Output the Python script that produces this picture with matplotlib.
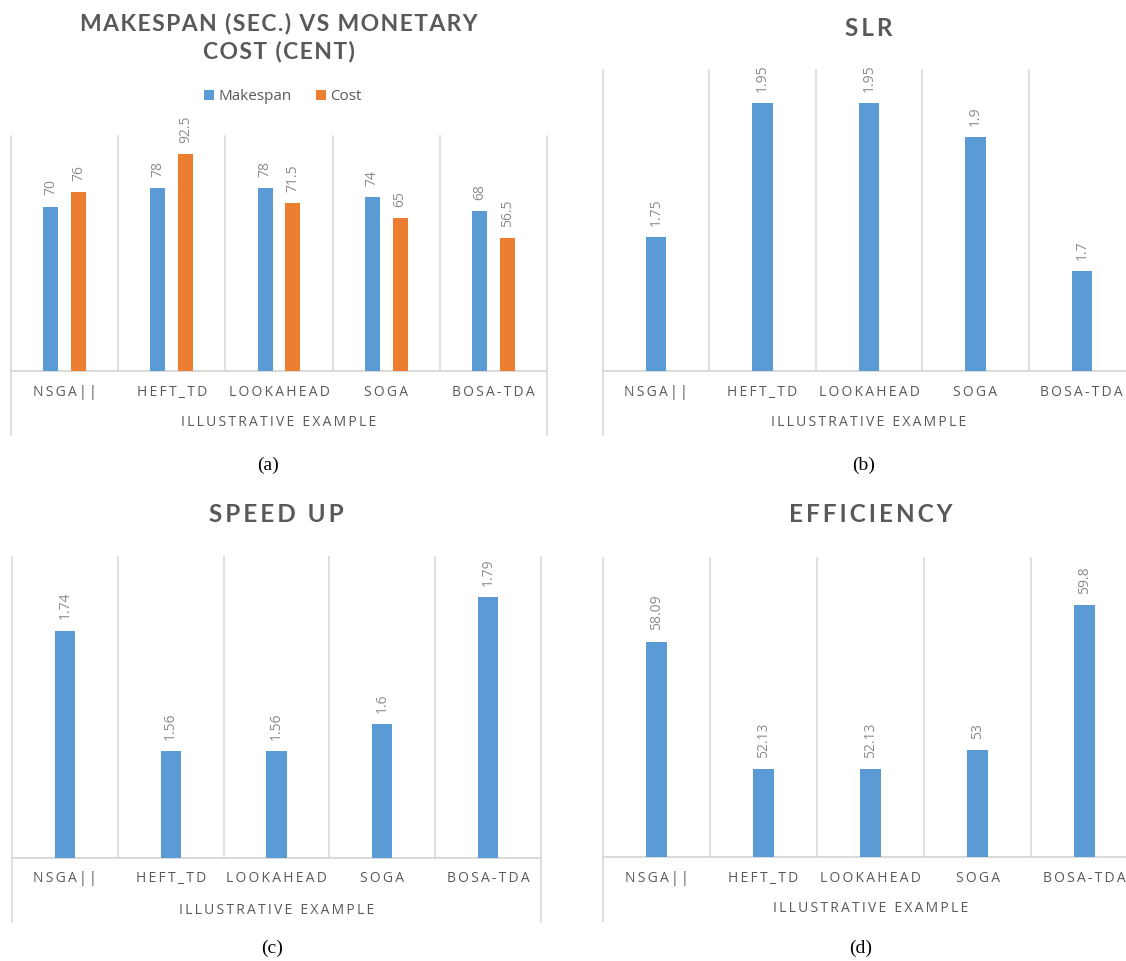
import matplotlib
matplotlib.use("Agg")
import matplotlib.pyplot as plt
import matplotlib.transforms as mtransforms
from matplotlib.patches import Patch
import numpy as np

# ---------------- data ----------------
categories = ["NSGA||", "HEFT_TD", "LOOKAHEAD", "SOGA", "BOSA-TDA"]
makespan = [70, 78, 78, 74, 68]
cost = [76, 92.5, 71.5, 65, 56.5]
slr = [1.75, 1.95, 1.95, 1.9, 1.7]
speedup = [1.74, 1.56, 1.56, 1.6, 1.79]
efficiency = [58.09, 52.13, 52.13, 53, 59.8]
xlabel_text = "ILLUSTRATIVE EXAMPLE"

BLUE = "#5B9BD5"
ORANGE = "#ED7D31"
GRID = "#D9D9D9"
TXT = "#595959"
LBL = "#8C8C8C"
FONT = ["Open Sans", "DejaVu Sans"]
TFONT = ["Lato", "DejaVu Sans"]

W, H = 1126, 961
fig = plt.figure(figsize=(W / 100, H / 100), dpi=100)
fig.patch.set_facecolor("white")


def spaced(s, sep="\u2009"):
    return sep.join(list(s))


def fx(px):
    return px / W


def fy(py):
    return 1 - py / H


def panel(left, right, top, base, ylim, title_lines, title_y, values_list,
          colors, width, offsets, tsize=17.5, tsep="\u2009"):
    ax = fig.add_axes([fx(left), fy(base), (right - left) / W, (base - top) / H])
    n = len(categories)
    ax.set_xlim(-0.5, n - 0.5)
    ax.set_ylim(*ylim)
    for s in ax.spines.values():
        s.set_visible(False)
    ax.set_xticks([])
    ax.set_yticks([])
    ax.patch.set_alpha(0)
    x = np.arange(n)
    hpx = base - top
    trans = mtransforms.blended_transform_factory(ax.transData, ax.transAxes)
    ext = -64.0 / hpx
    for i, xb in enumerate(np.arange(-0.5, n, 1.0)):
        y0 = ext if (i == 0 or i == n) else 0
        ax.plot([xb, xb], [y0, 1], color=GRID, lw=1.2, transform=trans, clip_on=False,
                zorder=0)
    ax.plot([-0.5, n - 0.5], [0, 0], color=GRID, lw=1.4, transform=trans,
            clip_on=False, zorder=1)
    for vals, c, off in zip(values_list, colors, offsets):
        ax.bar(x + off, np.array(vals) - ylim[0], width=width, bottom=ylim[0], color=c,
               zorder=2)
        for xi, v in zip(x, vals):
            ax.annotate("%g" % v, xy=(xi + off, v), xytext=(0, 8), textcoords="offset points",
                        rotation=90, ha="center", va="bottom", fontsize=10, color=LBL,
                        family=FONT, annotation_clip=False)
    for xi, c in zip(x, categories):
        ax.text(xi, -21.0 / hpx, spaced(c), transform=trans,
                ha="center", va="center", fontsize=10, color=TXT, family=FONT)
    ax.text(0.5 * (n - 1), -52.0 / hpx, spaced(xlabel_text), transform=trans,
            ha="center", va="center", fontsize=10, color=TXT, family=FONT)
    cx = fx((left + right) / 2)
    for t, ty in zip(title_lines, title_y):
        fig.text(cx, fy(ty), spaced(t, tsep), ha="center", va="center", fontsize=tsize,
                 fontweight="bold", color=TXT, family=TFONT)
    return ax


# Panel (a)
panel(11, 547, 136, 371, (0, 100), ["MAKESPAN (SEC.) VS MONETARY", "COST (CENT)"],
      [23.5, 52], [makespan, cost], [BLUE, ORANGE], 0.14, [-0.13, 0.13],
      tsize=16.5, tsep="\u200a")
# Panel (b)
panel(603, 1135, 70, 371, (1.55, 2.0), ["SLR"], [28], [slr], [BLUE], 0.19, [0.0])
# Panel (c)
panel(12, 541, 557, 858, (1.4, 1.85), ["SPEED UP"], [514], [speedup], [BLUE], 0.19, [0.0])
# Panel (d)
panel(603, 1138, 558, 857, (48, 62), ["EFFICIENCY"], [515], [efficiency], [BLUE], 0.19,
      [0.0])

# legend for (a)
handles = [Patch(facecolor=BLUE, label="Makespan"), Patch(facecolor=ORANGE, label="Cost")]
fig.legend(handles=handles, loc="center", bbox_to_anchor=(fx(283), fy(97)), ncol=2,
           frameon=False, handlelength=0.65, handleheight=0.65, handletextpad=0.3,
           columnspacing=1.6, prop={"family": FONT, "size": 11}, labelcolor=TXT)

# captions
for cap, cx, cy in [("(a)", 268, 465), ("(b)", 864, 465), ("(c)", 272, 948), ("(d)", 861, 948)]:
    fig.text(fx(cx), fy(cy), cap, ha="center", va="center", fontsize=14,
             family=["Liberation Serif", "DejaVu Serif"], color="black")

fig.savefig("out.png", dpi=100, facecolor="white")
